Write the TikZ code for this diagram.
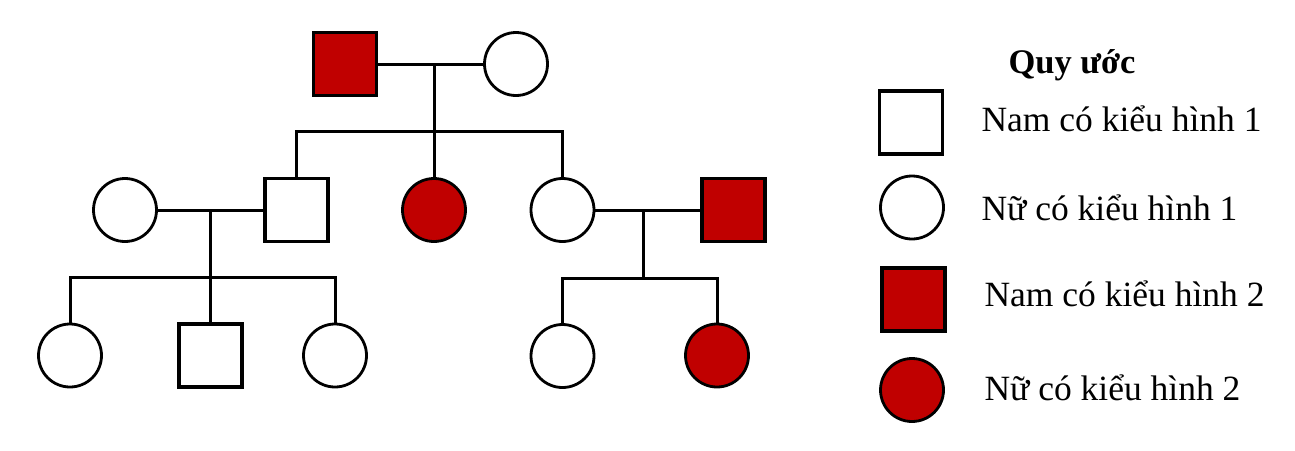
\documentclass[tikz,border=0pt]{standalone}
\usepackage{fontspec}
\setmainfont{Liberation Serif}
\definecolor{dred}{RGB}{192,0,0}
\begin{document}
\begin{tikzpicture}[x=1pt,y=-1pt,
  line width=3pt,
  male/.style={draw=black,fill=white,rectangle,minimum size=63pt,inner sep=0pt,line width=3.2pt},
  female/.style={draw=black,fill=white,circle,minimum size=63pt,inner sep=0pt,line width=2.8pt},
  aff/.style={fill=dred},
  lbl/.style={anchor=base west,inner sep=0pt,font=\fontsize{35.5}{40}\selectfont},
  conn/.style={line width=3pt}]
\useasboundingbox (0,0) rectangle (1295,450);
% Generation I
\node[male,aff] (I1) at (345,64) {};
\node[female] (I2) at (516,64) {};
% Generation II
\node[female] (II1) at (125,210) {};
\node[male] (II2) at (296.5,210) {};
\node[female,aff] (II3) at (434,210) {};
\node[female] (II4) at (562.5,210) {};
\node[male,aff] (II5) at (733.5,210) {};
% Generation III
\node[female] (III1) at (70,355.5) {};
\node[male] (III2) at (210.5,355.5) {};
\node[female] (III3) at (335,355.5) {};
\node[female] (III4) at (562.5,356) {};
\node[female,aff] (III5) at (717,355.5) {};
% marriage lines
\draw[conn] (I1.east) -- (I2.west);
\draw[conn] (II1.east) -- (II2.west);
\draw[conn] (II4.east) -- (II5.west);
% coordinates
\coordinate (m1) at (434,64);
\coordinate (s1) at (434,131);
\coordinate (s1l) at (296.5,131);
\coordinate (s1r) at (562.5,131);
\coordinate (m2) at (210.5,210);
\coordinate (s2) at (210.5,277);
\coordinate (s2l) at (70,277);
\coordinate (s2r) at (335,277);
\coordinate (m3) at (643,210);
\coordinate (s3) at (643,278);
\coordinate (s3l) at (562.5,278);
\coordinate (s3r) at (717,278);
% descent and sibship lines
\draw[conn] (m1) -- (s1);
\draw[conn] (II2.north) -- (s1l) -- (s1r) -- (II4.north);
\draw[conn] (s1) -- (II3.north);
\draw[conn] (m2) -- (s2);
\draw[conn] (III1.north) -- (s2l) -- (s2r) -- (III3.north);
\draw[conn] (s2) -- (III2.north);
\draw[conn] (m3) -- (s3);
\draw[conn] (III4.north) -- (s3l) -- (s3r) -- (III5.north);
% legend
\node[anchor=base west,inner sep=0pt,font=\bfseries\fontsize{34.5}{40}\selectfont] (title) at (1007,73) {Quy ước};
\node[male] (L1) at (911,122.5) {};
\node[female] (L2) at (912,207.5) {};
\node[male,aff] (L3) at (913.5,299.5) {};
\node[female,aff] (L4) at (912,390) {};
\node[lbl] (T1) at (980,131.7) {Nam có kiểu hình 1};
\node[lbl] (T2) at (980,220) {Nữ có kiểu hình 1};
\node[lbl] (T3) at (983,306.7) {Nam có kiểu hình 2};
\node[lbl] (T4) at (983,400) {Nữ có kiểu hình 2};
\end{tikzpicture}
\end{document}
